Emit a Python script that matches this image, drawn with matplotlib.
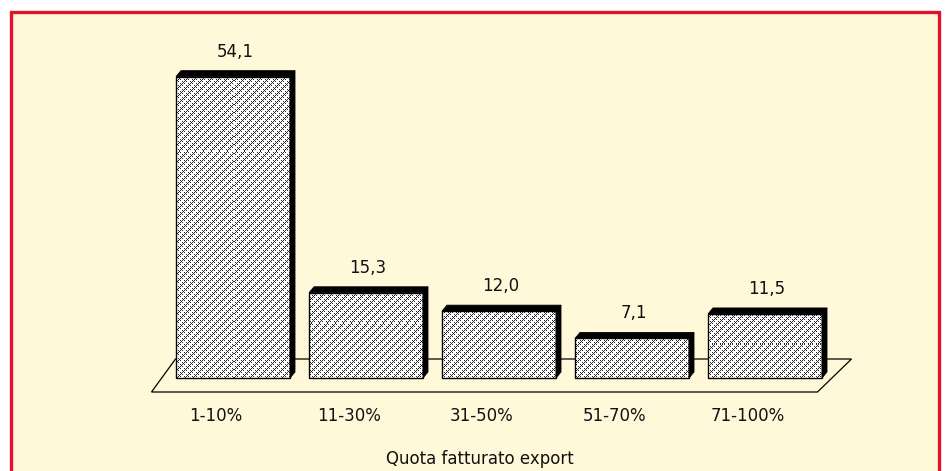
import matplotlib
matplotlib.use("Agg")
import numpy as np
import matplotlib.pyplot as plt
from matplotlib.patches import Polygon, Rectangle
from matplotlib.lines import Line2D

# dati del grafico
categorie = ["1-10%", "11-30%", "31-50%", "51-70%", "71-100%"]
valori = [54.1, 15.3, 12.0, 7.1, 11.5]
etichette = ["54,1", "15,3", "12,0", "7,1", "11,5"]
titolo_x = "Quota fatturato export"

W, H = 946, 471
CREMA = "#FFF9DA"
ROSSO = "#E3122C"

fig = plt.figure(figsize=(W / 100, H / 100), dpi=100, facecolor="white")

# sfondo crema e cornice rossa (coordinate in pixel -> frazioni della figura)
def fx(px):
    return px / W

def fy(py):
    return 1 - py / H

fig.patches.append(Rectangle((fx(11), 0), fx(939) - fx(11), fy(12), transform=fig.transFigure,
                             facecolor=CREMA, edgecolor="none", zorder=-2))
fig.add_artist(Line2D([fx(11), fx(11), fx(939), fx(939)], [0, fy(11.5), fy(11.5), 0],
                      transform=fig.transFigure, color=ROSSO, lw=2.4, solid_joinstyle="miter",
                      zorder=-1))

# asse su tutta la figura: x = indice categoria, y = valore
px_per_x = 133.0
px_per_y = 5.57
x0_px, y0_px = 233.0, 378.0
ax = fig.add_axes([0, 0, 1, 1])
ax.set_zorder(1)
xlim = (-x0_px / px_per_x, (W - x0_px) / px_per_x)
ylim = (-(H - y0_px) / px_per_y, y0_px / px_per_y)
ax.set_xlim(*xlim)
ax.set_ylim(*ylim)
ax.axis("off")
ax.patch.set_alpha(0)

def dxp(p):
    return p / px_per_x

def dyp(p):
    return p / px_per_y

# trama tipo Excel (tratteggio diagonale puntinato), un pixel per cella
tile = np.zeros((8, 8))
for r in range(8):
    for c in range(8):
        d = (c - r) % 8
        if d == 0 and r % 4 != 3:
            tile[r, c] = 1
        if d == 4 and r % 4 != 1:
            tile[r, c] = 1
        if d == 2 and r % 4 == 0:
            tile[r, c] = 1
        if d == 6 and r % 4 == 2:
            tile[r, c] = 1
trama = np.tile(tile, (H // 8 + 1, W // 8 + 1))[:H, :W]
rgb = np.ones((H, W, 3))
rgb[trama == 1] = (0.15, 0.15, 0.15)

# pavimento 3D
n = len(categorie)
sx = dxp(-24)
bx0, bx1 = -0.5 - dxp(-9), n - 0.5 + dxp(20)
by = dyp(19)
pav = Polygon([(bx0 + sx, by - dyp(33)), (bx1 + sx - dxp(10), by - dyp(33)),
               (bx1, by), (bx0, by)],
              closed=True, facecolor=CREMA, edgecolor="black", lw=0.9, zorder=1)
ax.add_patch(pav)

# barre con effetto 3D
larg = 114 / px_per_x
dep_x, dep_y = dxp(5), dyp(6)
barre = ax.bar(range(n), valori, width=larg, facecolor="white", edgecolor="none", zorder=3)
for i, (v, b) in enumerate(zip(valori, barre)):
    xl, xr = i - larg / 2, i + larg / 2
    im = ax.imshow(rgb, extent=(xlim[0], xlim[1], ylim[0], ylim[1]), origin="upper",
                   interpolation="nearest", aspect="auto", zorder=3.5)
    im.set_clip_path(b)
    ax.add_patch(Rectangle((xl, 0), larg, v, facecolor="none", edgecolor="black",
                           lw=1.0, zorder=4))
    top = Polygon([(xl, v), (xl + dep_x, v + dep_y), (xr + dep_x, v + dep_y), (xr, v)],
                  closed=True, facecolor="black", edgecolor="black", lw=0.6, zorder=4)
    lato = Polygon([(xr, 0), (xr + dep_x, dep_y), (xr + dep_x, v + dep_y), (xr, v)],
                   closed=True, facecolor="black", edgecolor="black", lw=0.6, zorder=4)
    ax.add_patch(top)
    ax.add_patch(lato)
    ax.annotate(etichette[i], (i + dxp(2), v), xytext=(0, 11.5), textcoords="offset points",
                ha="center", va="bottom", fontsize=12, color="#111111")
    ax.text(i - dxp(17), -dyp(38), categorie[i], ha="center", va="center",
            fontsize=12, color="#111111")

ax.text(dxp(480 - x0_px), -dyp(459 - y0_px), titolo_x, ha="center", va="center",
        fontsize=12, color="#111111")

fig.savefig("out.png", dpi=100, facecolor="white")
